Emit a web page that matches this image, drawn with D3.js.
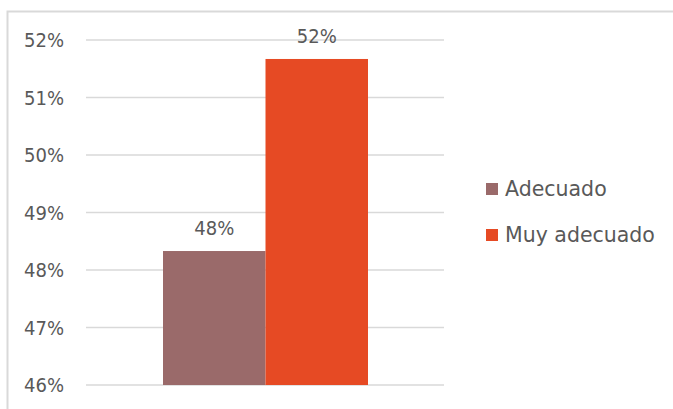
<!DOCTYPE html>
<html>
<head>
<meta charset="utf-8">
<script src="https://cdn.jsdelivr.net/npm/d3@7"></script>
<style>
  body { margin: 0; background: #fff; }
  text { font-family: "DejaVu Sans Condensed", "DejaVu Sans", sans-serif; fill: #595959; }
</style>
</head>
<body>
<div id="chart"></div>
<script>
const categories = ["Adecuado", "Muy adecuado"];
const values = [48.33, 51.67];
const labels = ["48%", "52%"];
const colors = ["#9A6A6A", "#E64A24"];
const ticks = [46, 47, 48, 49, 50, 51, 52];

const width = 673, height = 409;
const svg = d3.select("#chart").append("svg")
    .attr("width", width)
    .attr("height", height);

// chart frame
svg.append("rect")
    .attr("x", 7.5).attr("y", 11.5)
    .attr("width", 680).attr("height", 420)
    .attr("fill", "none")
    .attr("stroke", "#d9d9d9")
    .attr("stroke-width", 2);

const y = d3.scaleLinear().domain([46, 52]).range([385, 40]);
const x = d3.scaleBand().domain(categories).range([163, 368]);

svg.append("g")
    .selectAll("line")
    .data(ticks)
    .join("line")
    .attr("x1", 86).attr("x2", 444)
    .attr("y1", d => y(d)).attr("y2", d => y(d))
    .attr("stroke", "#d9d9d9")
    .attr("stroke-width", 1.5);

svg.append("g")
    .selectAll("text")
    .data(ticks)
    .join("text")
    .attr("x", 64)
    .attr("y", d => y(d))
    .attr("dy", "0.36em")
    .attr("text-anchor", "end")
    .style("font-size", "20px")
    .text(d => d + "%");

svg.append("g")
    .selectAll("rect")
    .data(categories)
    .join("rect")
    .attr("x", d => x(d))
    .attr("width", x.bandwidth())
    .attr("y", (d, i) => y(values[i]))
    .attr("height", (d, i) => y(46) - y(values[i]))
    .attr("fill", (d, i) => colors[i]);

svg.append("g")
    .selectAll("text")
    .data(categories)
    .join("text")
    .attr("x", d => x(d) + x.bandwidth() / 2)
    .attr("y", (d, i) => y(values[i]) - 16)
    .attr("text-anchor", "middle")
    .style("font-size", "20px")
    .text((d, i) => labels[i]);

const legend = svg.append("g")
    .selectAll("g")
    .data(categories)
    .join("g")
    .attr("transform", (d, i) => `translate(486, ${189 + i * 46})`);

legend.append("rect")
    .attr("x", 0).attr("y", -6)
    .attr("width", 12).attr("height", 12)
    .attr("fill", (d, i) => colors[i]);

legend.append("text")
    .attr("x", 19)
    .attr("dy", "0.36em")
    .style("font-size", "20.5px")
    .style("font-family", "'DejaVu Sans', sans-serif")
    .text(d => d);
</script>
</body>
</html>
